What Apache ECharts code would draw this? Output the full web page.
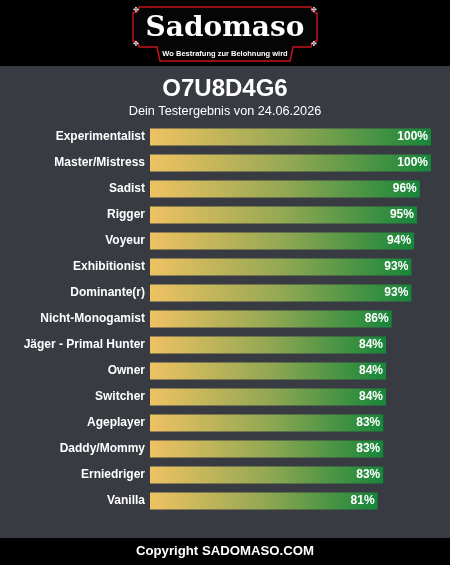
<!DOCTYPE html>
<html>
<head>
<meta charset="utf-8">
<script src="https://cdn.jsdelivr.net/npm/echarts@6/dist/echarts.min.js"></script>
<style>
  html, body { margin: 0; padding: 0; background: #383b42; }
  #chart { width: 450px; height: 565px; }
</style>
</head>
<body>
<div id="chart"></div>
<script>
const categories = [
  'Experimentalist', 'Master/Mistress', 'Sadist', 'Rigger', 'Voyeur',
  'Exhibitionist', 'Dominante(r)', 'Nicht-Monogamist', 'Jäger - Primal Hunter',
  'Owner', 'Switcher', 'Ageplayer', 'Daddy/Mommy', 'Erniedriger', 'Vanilla'
]
const scores = [100, 100, 96, 95, 94, 93, 93, 86, 84, 84, 84, 83, 83, 83, 81]

const resultId = 'O7U8D4G6'
const resultDate = 'Dein Testergebnis von 24.06.2026'
const brand = 'Sadomaso'
const slogan = 'Wo Bestrafung zur Belohnung wird'
const copyright = 'Copyright SADOMASO.COM'

const chart = echarts.init(document.getElementById('chart'))

const barGradient = {
  type: 'linear', x: 0, y: 0, x2: 1, y2: 0,
  colorStops: [
    { offset: 0, color: '#efc262' },
    { offset: 0.5, color: '#93a853' },
    { offset: 1, color: '#16863a' }
  ]
}

// concave corner: arc of radius r around corner (cx, cy), from angle a0 to a1
const notch = (cx, cy, r, a0, a1) => {
  const pts = []
  for (let i = 0; i <= 6; i++) {
    const a = (a0 + (a1 - a0) * i / 6) * Math.PI / 180
    pts.push([cx + r * Math.cos(a), cy + r * Math.sin(a)])
  }
  return pts
}

// logo frame with notched corners and a tab for the slogan
const framePoints = [
  ...notch(133, 7, 6, 90, 0),
  ...notch(317, 7, 6, 180, 90),
  ...notch(317, 47, 6, 270, 180),
  [293, 47], [290, 61], [160, 61], [157, 47],
  ...notch(133, 47, 6, 0, -90)
]

const ornament = (x, y) => ({
  type: 'text',
  x: x, y: y,
  style: {
    text: '✤', fill: '#ddd', fontSize: 7,
    fontFamily: 'DejaVu Sans', align: 'center', verticalAlign: 'middle'
  }
})

const option = {
  backgroundColor: '#383b42',
  animation: false,
  grid: { left: 150, right: 19, top: 124, bottom: 51 },
  xAxis: {
    type: 'value', min: 0, max: 100, show: false
  },
  yAxis: {
    type: 'category',
    data: categories,
    inverse: true,
    axisLine: { show: false },
    axisTick: { show: false },
    axisLabel: {
      color: '#fff', fontSize: 12, fontWeight: 'bold',
      fontFamily: 'Liberation Sans, Arial, sans-serif', margin: 5
    }
  },
  series: [{
    type: 'bar',
    data: scores,
    barWidth: 17,
    itemStyle: { color: barGradient },
    label: {
      show: true,
      position: 'insideRight',
      distance: 3,
      formatter: '{c}%',
      color: '#fff', fontSize: 12, fontWeight: 'bold',
      fontFamily: 'Liberation Sans, Arial, sans-serif'
    }
  }],
  graphic: [
    { type: 'rect', shape: { x: 0, y: 0, width: 450, height: 66 }, style: { fill: '#000' }, silent: true },
    { type: 'rect', shape: { x: 0, y: 538, width: 450, height: 27 }, style: { fill: '#000' }, silent: true },
    {
      type: 'polygon',
      shape: { points: framePoints },
      style: { fill: '#050505', stroke: '#c4121c', lineWidth: 1.5 }
    },
    ornament(136, 10), ornament(314, 10), ornament(136, 44), ornament(314, 44),
    {
      type: 'text', x: 225, y: 29,
      style: {
        text: brand, fill: '#fff', fontSize: 28, fontWeight: 'bold',
        fontFamily: 'DejaVu Serif', align: 'center', verticalAlign: 'middle'
      }
    },
    {
      type: 'text', x: 225, y: 54,
      style: {
        text: slogan, fill: '#fff', fontSize: 7.5, fontWeight: 'bold',
        fontFamily: 'Liberation Sans, Arial, sans-serif', align: 'center', verticalAlign: 'middle'
      }
    },
    {
      type: 'text', x: 225, y: 89,
      style: {
        text: resultId, fill: '#fff', fontSize: 24, fontWeight: 'bold',
        fontFamily: 'Liberation Sans, Arial, sans-serif', align: 'center', verticalAlign: 'middle'
      }
    },
    {
      type: 'text', x: 225, y: 111,
      style: {
        text: resultDate, fill: '#fff', fontSize: 12.7,
        fontFamily: 'Liberation Sans, Arial, sans-serif', align: 'center', verticalAlign: 'middle'
      }
    },
    {
      type: 'text', x: 225, y: 551,
      style: {
        text: copyright, fill: '#fff', fontSize: 13.2, fontWeight: 'bold',
        fontFamily: 'Liberation Sans, Arial, sans-serif', align: 'center', verticalAlign: 'middle'
      }
    }
  ]
}

chart.setOption(option)

window.addEventListener('resize', () => {
  chart.resize()
})
</script>
</body>
</html>
